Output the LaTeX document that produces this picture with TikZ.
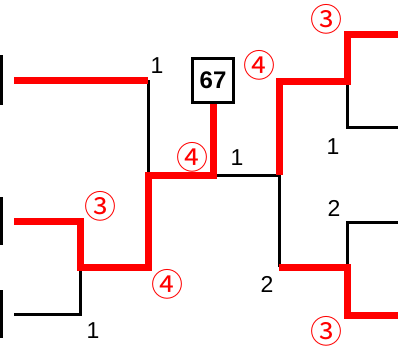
\documentclass[tikz,border=0pt]{standalone}
\usepackage{fontspec}
\setmainfont{Liberation Sans}
\newfontfamily\cjk{Noto Sans CJK JP}
\usepackage{tikz}

\begin{document}
\begin{tikzpicture}[x=1pt,y=-1pt,
  lose/.style={line width=3pt,black},
  win/.style={line width=7pt,red},
  num/.style={font=\fontsize{23}{23}\selectfont,inner sep=0pt},
  rank/.style={font=\cjk\fontsize{32}{32}\selectfont,text=red,inner sep=0pt}]
 \useasboundingbox (0,0) rectangle (398,349);

 % players, left side
 \coordinate (A) at (14,80);
 \coordinate (B) at (14,221);
 \coordinate (C) at (14,314);
 \draw[lose] (1.5,55) -- (1.5,105);
 \draw[lose] (1.5,197) -- (1.5,245);
 \draw[lose] (1.5,290) -- (1.5,338);

 % players, right side
 \coordinate (D) at (398,34);
 \coordinate (E) at (398,127);
 \coordinate (F) at (398,222);
 \coordinate (G) at (398,315);

 % junctions
 \coordinate (BC) at (80,267);
 \coordinate (ABC) at (148,175);
 \coordinate (DE) at (347,81);
 \coordinate (FG) at (347,267);
 \coordinate (DEFG) at (279,175);

 \node[draw,line width=3pt,minimum width=41pt,minimum height=44pt,inner sep=0pt,
   font=\bfseries\fontsize{24}{24}\selectfont] (W) at (213,80.5) {67};

 % black lines
 \draw[lose] (C) -| (BC);
 \draw[lose] (A -| ABC) -- (ABC);
 \draw[lose] (W.south |- ABC) -- (DEFG);
 \draw[lose] (E) -| (DE);
 \draw[lose] (F) -| (FG);
 \draw[lose] (DEFG) -- (DEFG |- FG);

 % red lines
 \draw[win] (A) -- (A -| ABC);
 \draw[win] (B) -| (BC) -| (ABC) -| (W.south);
 \draw[win] (DEFG) |- (DE) |- (D);
 \draw[win] (DEFG |- FG) -- (FG) |- (G);

 % labels
 \node[num] (n1) at (157,66) {1};
 \node[num] (n2) at (93,331) {1};
 \node[num] (n3) at (237,158) {1};
 \node[num] (n4) at (333,147) {1};
 \node[num] (n5) at (334,208) {2};
 \node[num] (n6) at (267,284) {2};
 \node[rank] (r1) at (100,206) {③};
 \node[rank] (r2) at (167,284) {④};
 \node[rank] (r3) at (192,157) {④};
 \node[rank] (r4) at (259,65) {④};
 \node[rank] (r5) at (326,19) {③};
 \node[rank] (r6) at (326,331) {③};
\end{tikzpicture}
\end{document}
